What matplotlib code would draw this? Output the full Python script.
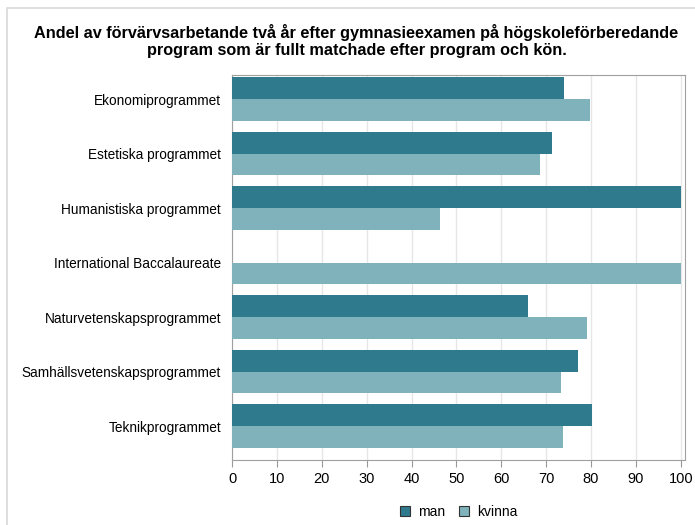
import matplotlib.pyplot as plt
import numpy as np
from matplotlib.patches import Rectangle

plt.rcParams['font.family'] = ['Liberation Sans', 'DejaVu Sans']

program = ['Ekonomiprogrammet', 'Estetiska programmet', 'Humanistiska programmet',
           'International Baccalaureate', 'Naturvetenskapsprogrammet',
           'Samhällsvetenskapsprogrammet', 'Teknikprogrammet']
man = [74.0, 71.3, 100.0, np.nan, 65.9, 77.1, 80.2]
kvinna = [79.8, 68.6, 46.3, 100.0, 79.1, 73.3, 73.7]
xticks = [0, 10, 20, 30, 40, 50, 60, 70, 80, 90, 100]

c_man = '#2f7a8d'
c_kvinna = '#7fb2bb'

fig = plt.figure(figsize=(6.95, 5.25), dpi=100)
fig.patches.append(Rectangle((0.01, -0.01), 1.0, 0.995, transform=fig.transFigure,
                             fill=False, edgecolor='#d8d8d8', linewidth=1.2))
ax = fig.add_axes([0.334, 0.124, 0.652, 0.733])

y = np.arange(len(program))
h = 0.4
ax.barh(y - h / 2, man, height=h, color=c_man, label='man', zorder=3)
ax.barh(y + h / 2, kvinna, height=h, color=c_kvinna, label='kvinna', zorder=3)

ax.set_ylim(6.62, -0.44)
ax.set_xlim(0, 101)
ax.set_yticks(y)
ax.set_yticklabels(program, fontsize=9.8)
ax.set_xticks(xticks)
ax.set_xticklabels([str(t) for t in xticks], fontsize=10.5)
ax.tick_params(axis='y', length=0, pad=8)
ax.tick_params(axis='x', length=5, color='#999999', pad=4)
ax.grid(axis='x', color='#e6e6e6', linewidth=1, zorder=0)
for s in ax.spines.values():
    s.set_color('#a0a0a0')

fig.text(0.513, 0.955, 'Andel av förvärvsarbetande två år efter gymnasieexamen på högskoleförberedande\n'
         'program som är fullt matchade efter program och kön.',
         ha='center', va='top', fontsize=11.7, fontweight='bold', linespacing=1.22)

ax.legend(loc='upper center', bbox_to_anchor=(0.5, -0.085), ncol=2, frameon=False,
          fontsize=10, handlelength=0.7, handleheight=0.7, handletextpad=0.6,
          columnspacing=1.0)
for p in ax.get_legend().get_patches():
    p.set_edgecolor('#333333')
    p.set_linewidth(0.8)

fig.savefig('out.png', dpi=100)
